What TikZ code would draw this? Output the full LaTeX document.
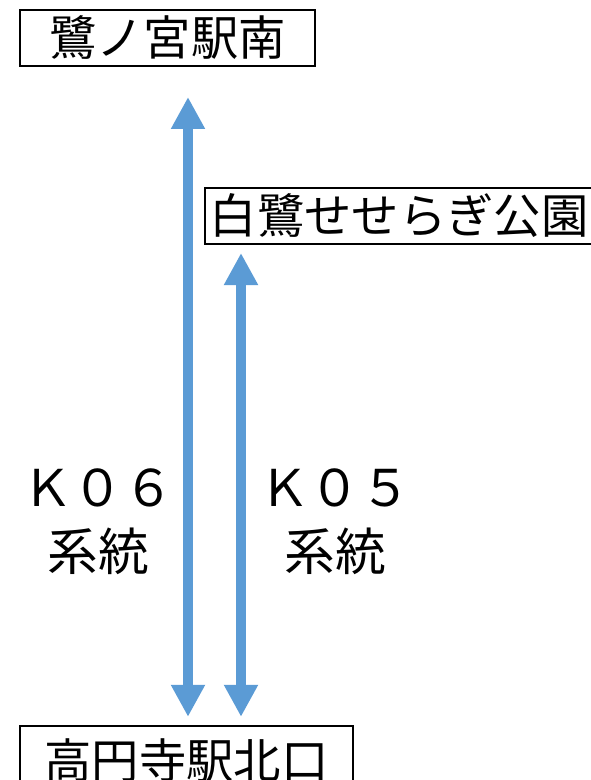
\documentclass[tikz,border=0pt]{standalone}
\usepackage{fontspec}
\newfontfamily\jpfont{Noto Sans CJK JP}
\usetikzlibrary{positioning,calc,arrows.meta}
\definecolor{routeblue}{HTML}{5B9BD5}

\begin{document}
\begin{tikzpicture}[x=0.75pt,y=-0.75pt,
    stop node/.style={draw,line width=1.5pt,inner sep=0pt,font=\jpfont\fontsize{35.5}{40}\selectfont},
    route/.style={routeblue,line width=7.5pt,{Triangle[width=24pt,length=24pt]}-{Triangle[width=24pt,length=24pt]}},
    route label/.style={align=center,font=\jpfont\fontsize{38}{48}\selectfont}]
    \useasboundingbox (0,0) rectangle (591,780);
    % stops
    \node[stop node,minimum width=221pt,minimum height=42pt] (sagi) at (167.5,38) {鷺ノ宮駅南};
    \node[stop node,minimum width=291pt,minimum height=42pt] (seseragi) at (399,216) {白鷺せせらぎ公園};
    \node[stop node,minimum width=250pt,minimum height=52pt] (koenji) at (186.5,760.5) {高円寺駅北口};
    % routes
    \coordinate (k06) at (188,0);
    \coordinate (k05) at (241,0);
    \draw[route,shorten <=6pt,shorten >=22.5pt] (k06 |- koenji.north) -- (k06 |- sagi.south);
    \draw[route,shorten <=6pt,shorten >=6pt] (k05 |- koenji.north) -- (k05 |- seseragi.south);
    % labels
    \node[route label] (k06 label) at (98,522) {Ｋ０６\\系統};
    \node[route label] (k05 label) at (335,522) {Ｋ０５\\系統};
\end{tikzpicture}
\end{document}
